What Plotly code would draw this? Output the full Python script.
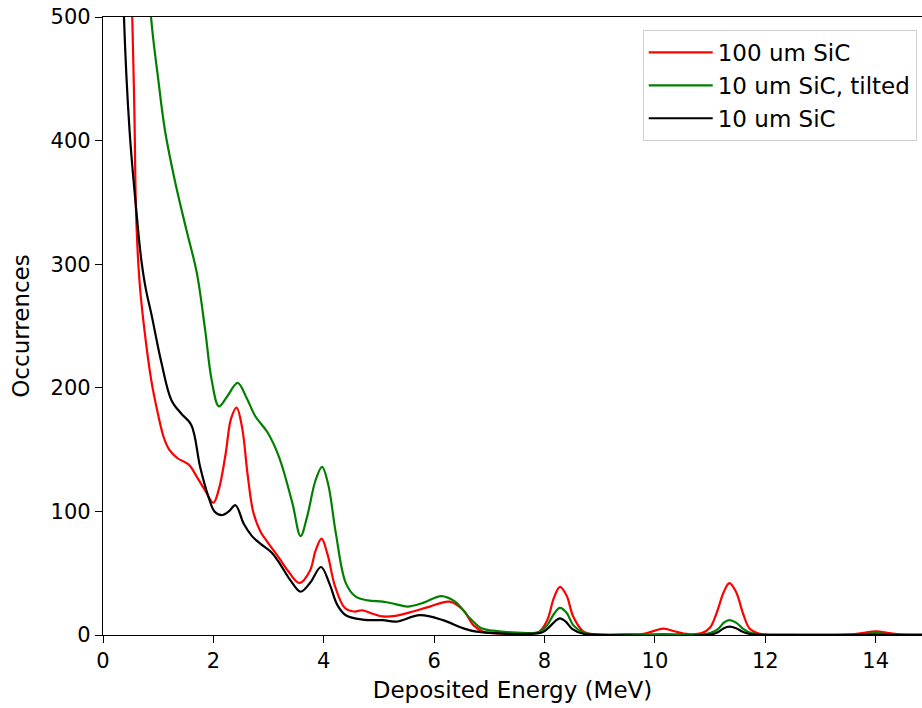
import plotly.graph_objects as go

# ---- data ----
red_x = [0.30, 0.53, 0.57, 0.60, 0.66, 0.75, 0.875, 1.0, 1.1, 1.2, 1.35, 1.55, 1.7, 1.85, 2.0,
         2.1, 2.22, 2.32, 2.42, 2.52, 2.62, 2.72, 2.85, 3.0, 3.18, 3.35, 3.56, 3.75, 3.85, 3.96,
         4.07, 4.2, 4.38, 4.55, 4.7, 4.9, 5.07, 5.3, 5.62, 5.92, 6.28, 6.53, 6.71, 6.89, 7.2,
         7.6, 7.9, 8.05, 8.17, 8.28, 8.4, 8.52, 8.7, 8.9, 9.5, 9.8, 10.0, 10.16, 10.35, 10.6,
         10.85, 11.0, 11.12, 11.25, 11.35, 11.47, 11.6, 11.72, 11.9, 12.2, 13.5, 13.75, 14.0,
         14.25, 14.5, 15.0]
red_y = [900, 500, 420, 341, 287, 247, 206, 178, 160, 150, 143, 138, 128, 117, 107,
         118, 146, 175, 184, 168, 130, 100, 84, 74, 63, 52, 42, 52, 68, 78,
         65, 40, 22, 19, 20, 17, 15, 15.5, 19, 23, 27, 20, 8, 2.7, 1.2,
         1, 2.5, 12, 30, 39, 32, 15, 3, 0.5, 0.5, 1, 3.5, 5.2, 3, 0.7,
         1.5, 6, 18, 35, 42, 35, 17, 5, 1, 0.3, 0.3, 1.5, 3,
         1.5, 0.3, 0.2]

green_x = [0.6, 0.87, 1.0, 1.12, 1.3, 1.51, 1.7, 1.85, 1.97, 2.1, 2.25, 2.44, 2.6, 2.76, 2.98,
           3.19, 3.43, 3.58, 3.7, 3.85, 3.97, 4.08, 4.22, 4.4, 4.58, 4.8, 5.07, 5.3, 5.52, 5.8,
           6.13, 6.38, 6.65, 6.86, 7.07, 7.5, 7.9, 8.05, 8.17, 8.28, 8.4, 8.52, 8.7, 8.9, 9.5,
           10.16, 10.8, 11.0, 11.15, 11.25, 11.35, 11.47, 11.6, 11.75, 11.9, 12.5, 13.7, 14.0,
           14.3, 15.0]
green_y = [700, 500, 450, 409, 368, 328, 293, 247, 206, 185, 193, 204, 192, 177, 164,
           144, 107, 80, 96, 125, 136, 122, 82, 42, 31, 28, 27, 25, 23, 26,
           31.5, 27, 13.5, 5.4, 3.5, 2, 2.5, 8, 17, 22, 18, 8, 2, 0.5, 0.3,
           0.8, 0.3, 1.5, 5, 10, 12, 10, 5, 1.5, 0.3, 0.2, 0.3, 1.5,
           0.3, 0.2]

black_x = [0.25, 0.38, 0.48, 0.6, 0.69, 0.78, 0.875, 1.06, 1.24, 1.42, 1.6, 1.76, 1.91, 2.02,
           2.15, 2.28, 2.4, 2.55, 2.7, 2.85, 3.05, 3.2, 3.4, 3.58, 3.75, 3.95, 4.1, 4.25, 4.4,
           4.7, 5.07, 5.31, 5.74, 6.16, 6.53, 6.77, 7.1, 7.6, 7.95, 8.1, 8.2, 8.28, 8.38, 8.5,
           8.7, 9.0, 11.0, 11.15, 11.25, 11.35, 11.47, 11.6, 11.8, 12.5, 15.0]
black_y = [800, 500, 409, 345, 305, 279, 260, 220, 190, 179, 170, 136, 112, 100,
           97, 100, 105, 90, 80, 74, 67, 58, 44, 35, 42, 55, 42, 24, 16,
           12.5, 12, 10.8, 16, 12, 5.4, 2.7, 1.5, 0.8, 2, 7, 11.5, 13.5, 11, 5,
           1, 0.2, 0.3, 2.5, 5.5, 6.7, 5.5, 2.5, 0.3, 0.1, 0.1]

series_names = ["100 um SiC", "10 um SiC, tilted", "10 um SiC"]
x_ticks = [0, 2, 4, 6, 8, 10, 12, 14]
y_ticks = [0, 100, 200, 300, 400, 500]

FONT = "DejaVu Sans"

fig = go.Figure()
for name, xs, ys, col in [(series_names[0], red_x, red_y, "#ff0000"),
                          (series_names[1], green_x, green_y, "#008000"),
                          (series_names[2], black_x, black_y, "#000000")]:
    fig.add_trace(go.Scatter(x=xs, y=ys, mode="lines", name=name,
                             line=dict(color=col, width=2.2, shape="spline", smoothing=1.0)))

fig.update_layout(
    width=922, height=708,
    margin=dict(l=103, r=0, t=17, b=73),
    paper_bgcolor="white", plot_bgcolor="white",
    font=dict(family=FONT, size=21, color="black"),
    showlegend=True,
    legend=dict(x=0.659, y=0.979, xanchor="left", yanchor="top",
                bgcolor="rgba(255,255,255,0.8)", bordercolor="#d0d0d0", borderwidth=1,
                font=dict(family=FONT, size=23, color="black"),
                itemwidth=64),
    xaxis=dict(range=[0, 14.84], tickvals=x_ticks, ticktext=[str(v) for v in x_ticks],
               ticks="outside", ticklen=7, tickwidth=1.3, tickcolor="black",
               showline=True, linecolor="black", linewidth=1.3, mirror=True,
               showgrid=False, zeroline=False,
               title=dict(text="Deposited Energy (MeV)", standoff=9,
                          font=dict(family=FONT, size=23))),
    yaxis=dict(range=[0, 500], tickvals=y_ticks, ticktext=[str(v) for v in y_ticks],
               ticks="outside", ticklen=7, tickwidth=1.3, tickcolor="black",
               showline=True, linecolor="black", linewidth=1.3,
               showgrid=False, zeroline=False,
               title=dict(text="Occurrences", standoff=14,
                          font=dict(family=FONT, size=23))),
)

fig.write_html("out.html")
